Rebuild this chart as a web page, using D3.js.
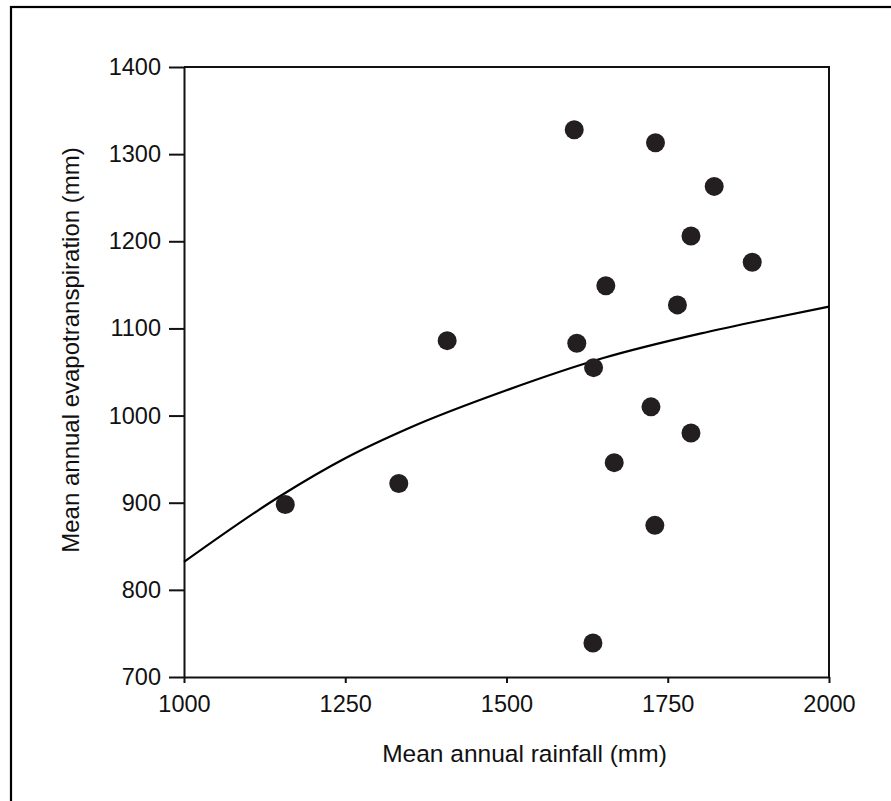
<!DOCTYPE html>
<html>
<head>
<meta charset="utf-8">
<script src="https://cdn.jsdelivr.net/npm/d3@7"></script>
<style>
  html, body { margin: 0; padding: 0; background: #fff; }
  svg { display: block; }
  text { font-family: "Liberation Sans", Arial, sans-serif; fill: #111; }
</style>
</head>
<body>
<svg id="chart" width="891" height="801"></svg>
<script>
// Observed data: mean annual rainfall (mm) and evapotranspiration (mm)
const rainfall = [1157, 1333, 1408, 1605, 1731, 1822, 1786, 1881, 1654, 1765, 1609, 1635, 1724, 1786, 1667, 1730, 1634];
const evapo    = [ 898,  922, 1086, 1328, 1313, 1263, 1206, 1176, 1149, 1127, 1083, 1055, 1010,  980,  946,  874,  739];

// Fitted curve
const curveRain = [1000, 1150, 1250, 1350, 1500, 1650, 1800, 1900, 2000];
const curveET   = [ 832,  908,  951,  986, 1029, 1066, 1094, 1110, 1125];

const xTicks = [1000, 1250, 1500, 1750, 2000];
const yTicks = [700, 800, 900, 1000, 1100, 1200, 1300, 1400];
const xTitle = "Mean annual rainfall (mm)";
const yTitle = "Mean annual evapotranspiration (mm)";

const svg = d3.select("#chart");
const mLeft = 184, mRight = 829, mTop = 67, mBottom = 677;

const x = d3.scaleLinear().domain([1000, 2000]).range([mLeft, mRight]);
const y = d3.scaleLinear().domain([700, 1400]).range([mBottom, mTop]);

// outer frame (extends beyond the image right/bottom)
svg.append("rect")
  .attr("x", 11).attr("y", 7).attr("width", 900).attr("height", 820)
  .attr("fill", "none").attr("stroke", "#000").attr("stroke-width", 2.2);

// plot box top and right
svg.append("path")
  .attr("d", `M${mLeft},${mTop}H${mRight}V${mBottom}`)
  .attr("fill", "none").attr("stroke", "#111").attr("stroke-width", 2);

// x axis
const xAxis = svg.append("g")
  .attr("transform", `translate(0,${mBottom})`)
  .call(d3.axisBottom(x).tickValues(xTicks).tickSize(6).tickSizeOuter(0).tickPadding(12).tickFormat(d3.format("d")));
// y axis
const yAxis = svg.append("g")
  .attr("transform", `translate(${mLeft},0)`)
  .call(d3.axisLeft(y).tickValues(yTicks).tickSize(15).tickSizeOuter(0).tickPadding(8).tickFormat(d3.format("d")));

[xAxis, yAxis].forEach(g => {
  g.select(".domain").attr("stroke", "#111").attr("stroke-width", 2);
  g.selectAll(".tick line").attr("stroke", "#111").attr("stroke-width", 2);
  g.selectAll(".tick text").attr("font-size", 23.5).attr("fill", "#111")
    .attr("font-family", '"Liberation Sans", Arial, sans-serif');
});

// curve
const line = d3.line().x(d => x(d[0])).y(d => y(d[1])).curve(d3.curveMonotoneX);
svg.append("path")
  .datum(d3.zip(curveRain, curveET))
  .attr("d", line)
  .attr("fill", "none").attr("stroke", "#000").attr("stroke-width", 2.2);

// points
svg.append("g").selectAll("circle")
  .data(d3.zip(rainfall, evapo))
  .join("circle")
  .attr("cx", d => x(d[0])).attr("cy", d => y(d[1]))
  .attr("r", 9.5).attr("fill", "#231f20");

// axis titles
svg.append("text")
  .attr("x", 524.5).attr("y", 762)
  .attr("text-anchor", "middle").attr("font-size", 24.5)
  .text(xTitle);

svg.append("text")
  .attr("transform", "translate(79,350) rotate(-90)")
  .attr("text-anchor", "middle").attr("font-size", 24)
  .text(yTitle);
</script>
</body>
</html>
